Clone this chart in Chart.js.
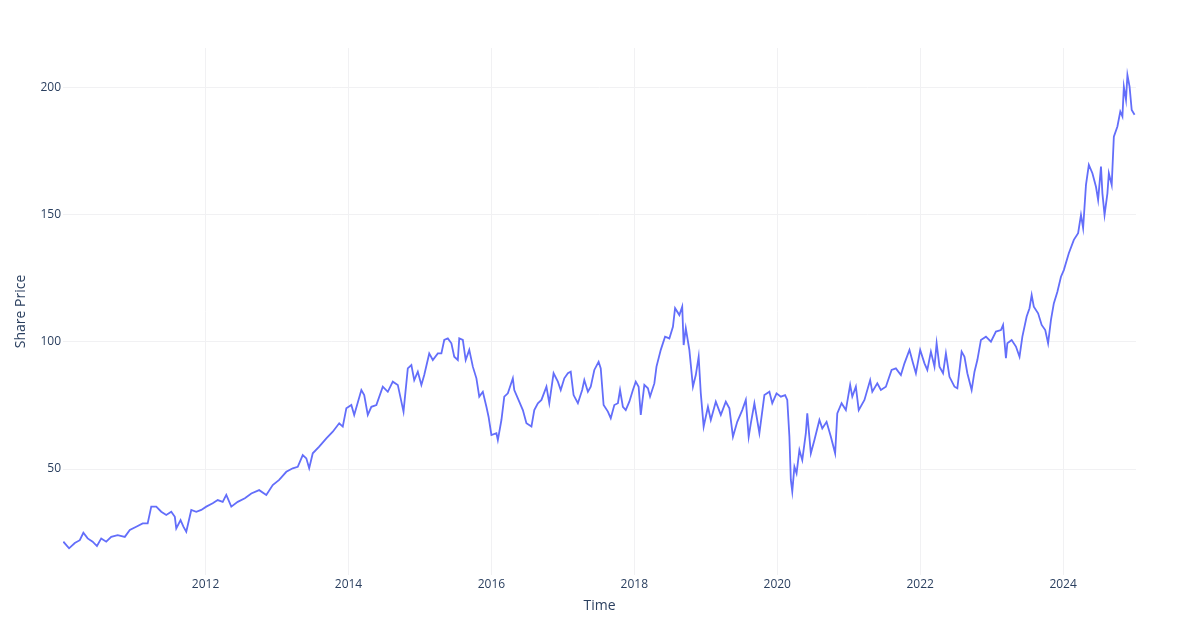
<!DOCTYPE html>
<html>
<head>
<meta charset="utf-8">
<title>Share Price</title>
<script src="https://cdn.jsdelivr.net/npm/chart.js@4/dist/chart.umd.min.js"></script>
<style>
	html, body { margin: 0; padding: 0; background: #fff; }
	#wrap { width: 1200px; height: 640px; position: relative; }
</style>
</head>
<body>
<div id="wrap"><canvas id="chart"></canvas></div>
<script>
"use strict";

// time in decimal years, price
const priceDates = [
	2010.01, 2010.09, 2010.17, 2010.24, 2010.29, 2010.35, 2010.42, 2010.48, 2010.54, 2010.61,
	2010.68, 2010.77, 2010.87, 2010.94, 2011.03, 2011.12, 2011.19, 2011.24, 2011.31, 2011.38,
	2011.45, 2011.52, 2011.57, 2011.59, 2011.65, 2011.69, 2011.73, 2011.80, 2011.87, 2011.94,
	2012.01, 2012.10, 2012.17, 2012.24, 2012.29, 2012.36, 2012.45, 2012.55, 2012.64, 2012.75,
	2012.85, 2012.94, 2013.03, 2013.13, 2013.22, 2013.29, 2013.36, 2013.41, 2013.45, 2013.50,
	2013.59, 2013.69, 2013.78, 2013.87, 2013.92, 2013.97, 2014.04, 2014.08, 2014.18, 2014.22,
	2014.27, 2014.32, 2014.39, 2014.48, 2014.55, 2014.62, 2014.69, 2014.77, 2014.83, 2014.88,
	2014.92, 2014.97, 2015.02, 2015.06, 2015.13, 2015.18, 2015.25, 2015.30, 2015.34, 2015.39,
	2015.44, 2015.48, 2015.53, 2015.55, 2015.60, 2015.64, 2015.69, 2015.74, 2015.79, 2015.83,
	2015.88, 2015.93, 2015.96, 2016.00, 2016.07, 2016.09, 2016.14, 2016.18, 2016.23, 2016.30,
	2016.32, 2016.37, 2016.44, 2016.49, 2016.56, 2016.60, 2016.65, 2016.70, 2016.77, 2016.81,
	2016.87, 2016.93, 2016.97, 2017.02, 2017.07, 2017.11, 2017.15, 2017.21, 2017.27, 2017.30,
	2017.35, 2017.39, 2017.44, 2017.50, 2017.53, 2017.57, 2017.63, 2017.67, 2017.72, 2017.77,
	2017.80, 2017.84, 2017.88, 2017.93, 2017.98, 2018.02, 2018.06, 2018.09, 2018.14, 2018.19,
	2018.22, 2018.28, 2018.31, 2018.37, 2018.43, 2018.49, 2018.54, 2018.57, 2018.63, 2018.67,
	2018.69, 2018.72, 2018.77, 2018.82, 2018.86, 2018.90, 2018.93, 2018.97, 2019.03, 2019.07,
	2019.14, 2019.21, 2019.28, 2019.33, 2019.38, 2019.44, 2019.51, 2019.56, 2019.60, 2019.63,
	2019.68, 2019.75, 2019.82, 2019.89, 2019.93, 2019.99, 2020.05, 2020.11, 2020.14, 2020.17,
	2020.19, 2020.21, 2020.24, 2020.27, 2020.31, 2020.35, 2020.40, 2020.42, 2020.47, 2020.52,
	2020.59, 2020.63, 2020.69, 2020.75, 2020.81, 2020.84, 2020.90, 2020.96, 2021.02, 2021.05,
	2021.10, 2021.14, 2021.22, 2021.30, 2021.33, 2021.40, 2021.45, 2021.52, 2021.60, 2021.66,
	2021.73, 2021.78, 2021.85, 2021.90, 2021.94, 2022.00, 2022.06, 2022.10, 2022.15, 2022.20,
	2022.23, 2022.27, 2022.32, 2022.36, 2022.41, 2022.48, 2022.52, 2022.58, 2022.62, 2022.66,
	2022.72, 2022.76, 2022.80, 2022.85, 2022.92, 2022.99, 2023.06, 2023.13, 2023.16, 2023.20,
	2023.22, 2023.28, 2023.34, 2023.39, 2023.43, 2023.49, 2023.53, 2023.56, 2023.59, 2023.65,
	2023.70, 2023.75, 2023.79, 2023.83, 2023.87, 2023.92, 2023.97, 2024.01, 2024.08, 2024.15,
	2024.21, 2024.25, 2024.28, 2024.32, 2024.36, 2024.41, 2024.46, 2024.49, 2024.53, 2024.55,
	2024.58, 2024.62, 2024.64, 2024.68, 2024.71, 2024.76, 2024.80, 2024.83, 2024.85, 2024.88,
	2024.90, 2024.93, 2024.96, 2025.00
];

const priceValues = [
	21.4, 18.8, 20.9, 22.0, 24.9, 22.7, 21.4, 19.7, 22.7, 21.4,
	23.3, 24.0, 23.3, 26.0, 27.3, 28.6, 28.6, 35.2, 35.2, 33.2,
	31.9, 33.2, 31.2, 26.6, 29.9, 27.3, 25.3, 33.9, 33.2, 33.9,
	35.2, 36.5, 37.8, 37.1, 39.8, 35.2, 37.1, 38.5, 40.4, 41.7,
	39.8, 43.7, 45.7, 48.9, 50.3, 50.9, 55.5, 54.2, 50.3, 56.2,
	58.8, 62.1, 64.7, 68.0, 66.7, 73.9, 75.2, 71.3, 81.1, 79.1,
	71.3, 74.5, 75.2, 82.4, 80.4, 84.4, 83.1, 72.6, 89.6, 90.9,
	85.0, 88.3, 83.1, 87.0, 95.5, 92.9, 95.5, 95.5, 100.8, 101.4,
	99.5, 94.2, 92.9, 101.4, 100.8, 92.9, 96.9, 90.3, 85.7, 78.5,
	80.4, 74.5, 70.6, 63.4, 64.1, 61.4, 69.3, 78.5, 79.8, 85.7,
	81.1, 77.8, 73.2, 68.0, 66.7, 73.2, 75.9, 77.2, 82.4, 75.9,
	87.7, 84.4, 81.1, 85.7, 87.7, 88.3, 79.1, 75.9, 81.1, 85.0,
	80.4, 82.4, 89.0, 92.2, 89.6, 75.2, 72.6, 70.0, 75.2, 75.9,
	81.1, 74.5, 73.2, 76.5, 81.1, 84.4, 82.4, 71.3, 83.1, 81.8,
	78.5, 83.7, 90.3, 96.9, 102.1, 101.4, 106.0, 113.3, 110.6, 113.9,
	98.8, 105.4, 96.9, 82.4, 87.0, 94.2, 79.8, 66.7, 74.5, 69.3,
	76.5, 71.3, 76.5, 73.9, 62.7, 68.6, 73.2, 77.2, 62.7, 68.0,
	75.9, 64.1, 79.1, 80.4, 75.9, 79.8, 78.5, 79.1, 77.2, 62.7,
	45.7, 41.1, 50.9, 48.3, 57.5, 53.5, 64.1, 71.9, 56.2, 61.4,
	69.3, 66.0, 68.6, 62.7, 56.2, 71.9, 75.9, 73.2, 83.1, 78.5,
	82.4, 73.2, 77.2, 85.0, 80.4, 83.7, 81.1, 82.4, 89.0, 89.6,
	87.0, 91.6, 96.9, 91.6, 87.7, 96.9, 91.6, 89.0, 96.2, 90.3,
	99.5, 90.3, 87.7, 95.5, 86.3, 82.4, 81.8, 96.2, 94.2, 87.7,
	81.1, 88.3, 92.9, 100.8, 102.1, 100.1, 104.1, 104.7, 106.7, 93.6,
	99.5, 100.8, 98.2, 94.2, 102.1, 110.0, 113.3, 118.5, 113.9, 111.3,
	106.7, 104.7, 99.5, 108.7, 115.2, 119.8, 125.7, 128.3, 134.9, 140.2,
	142.8, 150.0, 144.8, 161.8, 169.7, 166.4, 161.1, 155.9, 169.0, 158.5,
	150.0, 158.5, 166.4, 161.8, 180.8, 184.8, 190.7, 188.7, 200.5, 195.3,
	205.1, 200.5, 191.3, 189.4
];

const yearTicks = [2012, 2014, 2016, 2018, 2020, 2022, 2024];
const priceTicks = [50, 100, 150, 200];

const textColor = '#2a3f5f';
const gridColor = '#f1f1f3';
const fontFamily = '"Open Sans", "Noto Sans", sans-serif';

window.addEventListener('load', function () {
	var points = priceDates.map(function (d, i) {
		return {x: d, y: priceValues[i]};
	});

	var ctx = document.getElementById('chart').getContext('2d');
	new Chart(ctx, {
		type: 'line',
		data: {
			datasets: [{
				data: points,
				borderColor: '#636efa',
				borderWidth: 1.8,
				pointRadius: 0,
				fill: false,
				tension: 0,
			}]
		},
		options: {
			responsive: true,
			maintainAspectRatio: false,
			animation: false,
			layout: {
				padding: {top: 48, right: 64, bottom: 0, left: 0}
			},
			plugins: {
				legend: {display: false},
				tooltip: {enabled: false},
			},
			scales: {
				x: {
					type: 'linear',
					min: 2010.005,
					max: 2025.02,
					afterBuildTicks: function (scale) {
						scale.ticks = yearTicks.map(function (v) { return {value: v}; });
					},
					afterFit: function (scale) { scale.height = 65; },
					grid: {color: gridColor, drawTicks: false},
					border: {display: false},
					ticks: {
						color: textColor,
						font: {family: fontFamily, size: 12},
						padding: 2,
						maxRotation: 0,
						callback: function (v) { return String(v); },
					},
					title: {
						display: true,
						text: 'Time',
						color: textColor,
						font: {family: fontFamily, size: 14},
						padding: {top: 0, bottom: 26},
					}
				},
				y: {
					min: 8.3,
					max: 215.7,
					afterBuildTicks: function (scale) {
						scale.ticks = priceTicks.map(function (v) { return {value: v}; });
					},
					afterFit: function (scale) { scale.width = 63; },
					grid: {color: gridColor, drawTicks: false},
					border: {display: false},
					ticks: {
						color: textColor,
						font: {family: fontFamily, size: 12},
						padding: 2,
					},
					title: {
						display: true,
						text: 'Share Price',
						color: textColor,
						font: {family: fontFamily, size: 14},
						padding: {top: 13, bottom: 0},
					}
				}
			}
		}
	});
});
</script>
</body>
</html>
